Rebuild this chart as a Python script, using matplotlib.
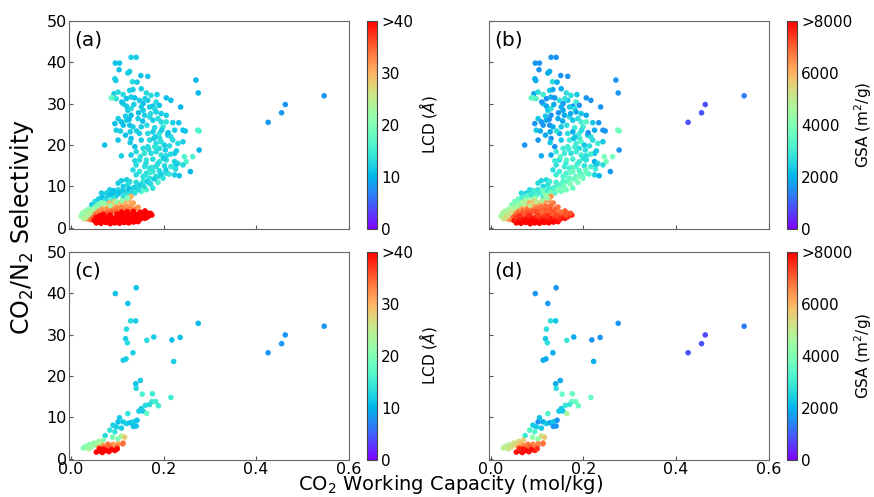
import numpy as np
import matplotlib
matplotlib.use('Agg')
import matplotlib.pyplot as plt

# ---- upper panels (a)/(b): all structures ----
# scattered high-selectivity points
up_wc = [0.096, 0.105, 0.104, 0.130, 0.141, 0.123, 0.127, 0.151, 0.166, 0.095, 0.097, 0.133, 0.143,
         0.270, 0.275, 0.547, 0.463, 0.455, 0.426,
         0.093, 0.102, 0.113, 0.087, 0.091, 0.098, 0.127, 0.134, 0.152, 0.163, 0.173, 0.186, 0.120,
         0.130, 0.138, 0.148, 0.156, 0.166, 0.177, 0.184, 0.191, 0.206, 0.216, 0.237, 0.113, 0.120,
         0.123, 0.130, 0.152, 0.156, 0.170, 0.181, 0.184, 0.195, 0.206, 0.102, 0.095, 0.109, 0.120,
         0.130, 0.145, 0.159, 0.170, 0.177, 0.188, 0.195, 0.206, 0.220, 0.233, 0.113, 0.127, 0.134,
         0.152, 0.164, 0.181, 0.199, 0.224, 0.242, 0.247, 0.274, 0.277, 0.098, 0.107, 0.128, 0.148,
         0.166, 0.177, 0.191, 0.209, 0.216, 0.102, 0.130, 0.152, 0.170, 0.184, 0.195, 0.220, 0.242,
         0.073, 0.138, 0.156, 0.166, 0.181, 0.191, 0.202, 0.213, 0.231, 0.277, 0.109, 0.130, 0.141,
         0.159, 0.173, 0.184, 0.195, 0.206, 0.224, 0.245, 0.263, 0.148, 0.163, 0.177, 0.191, 0.206,
         0.224, 0.231, 0.249, 0.141, 0.159, 0.170, 0.184, 0.202, 0.216, 0.227, 0.242, 0.134, 0.148,
         0.163, 0.177, 0.191, 0.206, 0.224, 0.234, 0.258, 0.141, 0.156, 0.170, 0.184, 0.199, 0.120,
         0.109, 0.102, 0.127, 0.141, 0.156, 0.170, 0.188, 0.113, 0.123, 0.134, 0.148, 0.163, 0.177,
         0.084, 0.095, 0.102, 0.120, 0.138, 0.152, 0.066, 0.077, 0.091, 0.113, 0.127, 0.055]
up_sel = [39.8, 39.8, 38.2, 41.2, 41.2, 37.4, 37.8, 36.8, 36.6, 36.0, 35.6, 35.3, 35.2,
          35.7, 32.6, 31.9, 29.8, 27.8, 25.5,
          32.4, 32.8, 32.2, 31.4, 31.4, 31.2, 33.2, 33.4, 33.6, 32.6, 32.0, 32.2, 31.2,
          31.6, 31.4, 30.8, 30.0, 30.8, 29.4, 30.4, 29.6, 31.4, 30.8, 29.2, 30.0, 29.4,
          28.4, 28.8, 29.2, 28.4, 29.2, 28.8, 28.0, 27.6, 27.2, 26.4, 25.2, 25.6, 26.0,
          27.2, 26.4, 27.2, 26.8, 26.0, 26.4, 25.6, 25.6, 25.4, 25.4, 24.8, 24.8, 24.4,
          24.4, 24.8, 24.2, 24.4, 23.6, 23.6, 23.4, 23.6, 23.4, 23.6, 23.4, 23.2, 22.8,
          22.8, 23.2, 22.8, 22.4, 22.0, 21.2, 21.6, 21.2, 21.2, 20.4, 20.8, 21.2, 20.8,
          20.0, 19.6, 19.2, 19.6, 19.6, 19.2, 20.0, 19.8, 20.4, 18.8, 17.4, 17.6, 18.4,
          18.0, 18.0, 18.4, 17.6, 17.4, 18.0, 17.2, 17.2, 16.4, 16.4, 16.6, 16.0, 16.4,
          16.0, 15.6, 16.0, 15.2, 14.8, 14.4, 14.8, 15.0, 14.8, 15.2, 15.2, 14.0, 13.6,
          13.2, 13.6, 13.8, 13.2, 12.8, 12.6, 13.6, 12.8, 12.4, 12.0, 12.4, 12.0, 11.6,
          11.4, 10.8, 11.2, 11.0, 11.2, 10.8, 11.0, 10.0, 10.4, 9.6, 10.0, 9.2, 9.6,
          9.2, 8.8, 9.2, 8.8, 8.4, 8.8, 8.4, 8.4, 7.6, 7.6, 8.0, 5.2]
up_lcd = [11, 11, 11, 12, 12, 12, 12, 11, 11, 12, 12, 13, 12,
          10, 10, 8, 8, 8, 8,
          12, 13, 13, 18, 18, 14, 12, 12, 12, 13, 13, 12, 11,
          12, 11, 12, 11, 12, 11, 13, 11, 11, 11, 10, 12, 12,
          12, 13, 12, 12, 12, 13, 12, 12, 12, 12, 11, 11, 12,
          11, 12, 12, 13, 12, 13, 13, 14, 12, 11, 11, 11, 12,
          12, 13, 13, 14, 12, 11, 11, 16, 16, 12, 12, 12, 12,
          13, 12, 14, 12, 13, 11, 11, 12, 13, 13, 14, 13, 12,
          11, 11, 13, 13, 14, 13, 12, 13, 13, 10, 12, 12, 13,
          14, 13, 13, 14, 13, 12, 16, 16, 13, 14, 13, 14, 13,
          12, 13, 16, 13, 14, 13, 14, 13, 14, 12, 13, 13, 14,
          13, 14, 13, 14, 12, 11, 10, 13, 13, 14, 13, 14, 12,
          12, 12, 13, 13, 14, 14, 16, 12, 13, 13, 14, 16, 14,
          12, 12, 13, 13, 14, 16, 12, 12, 13, 13, 16, 12]
up_gsa = [1600, 1600, 1600, 1600, 1600, 1900, 1900, 1600, 1600, 1900, 1900, 2700, 1900,
          1600, 1600, 1300, 800, 850, 850,
          1900, 2700, 3000, 3400, 3500, 3400, 2300, 1900, 1900, 2700, 2700, 2300, 1600,
          1900, 1600, 2700, 1600, 2300, 1600, 3000, 1600, 1600, 1600, 1600, 2300, 1900,
          2300, 2700, 1900, 1900, 2300, 2700, 1900, 2300, 1900, 2300, 1600, 1600, 1900,
          1600, 1900, 1900, 2700, 2300, 2700, 3000, 3400, 2300, 1600, 1600, 1600, 1900,
          2300, 2700, 3000, 3000, 1900, 1600, 1600, 3800, 3800, 2300, 1900, 1900, 1900,
          2700, 1900, 3000, 2300, 2700, 1600, 1600, 2300, 3000, 3000, 3400, 2700, 2300,
          1600, 1600, 3000, 3000, 3000, 2700, 2300, 2700, 3000, 1600, 1900, 1900, 3000,
          3000, 2700, 3000, 3000, 2700, 2300, 3800, 3800, 2700, 3400, 3000, 3000, 2700,
          1900, 2700, 3800, 2700, 3000, 3000, 3400, 2700, 3000, 2300, 2700, 2700, 3000,
          3200, 3600, 3300, 3800, 2500, 2000, 1600, 3000, 3200, 3500, 3100, 3700, 2600,
          2500, 2600, 3000, 3100, 3400, 3500, 3900, 2500, 2800, 3000, 3400, 3800, 3600,
          2600, 2400, 2800, 3000, 3400, 3800, 2600, 2500, 2900, 3000, 4000, 2500]

# more points filling the middle of the high-selectivity cloud
mid_wc = [0.110, 0.118, 0.126, 0.136, 0.146, 0.160, 0.172, 0.182, 0.196, 0.210, 0.118, 0.128, 0.142,
          0.155, 0.168, 0.179, 0.192, 0.204, 0.215, 0.228, 0.138, 0.150, 0.162, 0.175, 0.187, 0.200,
          0.212, 0.226, 0.160, 0.172]
mid_sel = [30.4, 27.0, 26.2, 29.8, 27.8, 31.2, 27.6, 22.0, 23.6, 23.0, 22.4, 20.6, 23.4,
           25.8, 19.0, 21.6, 21.6, 18.8, 17.8, 18.6, 16.2, 17.2, 15.6, 14.6, 15.4, 16.8,
           13.0, 14.2, 12.6, 13.4]
mid_lcd = [11, 12, 11, 12, 11, 12, 13, 12, 12, 11, 11, 12, 12,
           11, 13, 12, 13, 12, 13, 12, 13, 14, 13, 14, 13, 12,
           14, 13, 14, 15]
mid_gsa = [1600, 2300, 1600, 1900, 1600, 2700, 1900, 2300, 2700, 1600, 1900, 2300, 2700,
           1900, 3000, 2300, 3000, 2700, 3000, 2300, 3000, 3400, 3000, 3400, 3000, 2700,
           3400, 3000, 3400, 3700]

# dense low-selectivity cluster, cyan edge
cy_wc = [0.045, 0.052, 0.060, 0.068, 0.075, 0.080, 0.088, 0.095, 0.100, 0.105, 0.112, 0.118, 0.125,
         0.130, 0.138, 0.145, 0.150, 0.158, 0.165, 0.172, 0.180, 0.188, 0.195, 0.205, 0.085, 0.070, 0.092]
cy_sel = [5.6, 6.4, 7.0, 7.4, 6.8, 7.8, 8.2, 7.2, 8.0, 8.6, 9.0, 7.9, 9.4,
          8.6, 9.8, 9.2, 10.4, 10.0, 11.2, 10.6, 11.8, 12.4, 13.0, 14.0, 6.5, 6.2, 9.0]
cy_lcd = [12, 13, 12, 11, 13, 12, 11, 14, 12, 11, 12, 14, 11,
          13, 12, 13, 12, 13, 12, 13, 12, 13, 12, 12, 16, 16, 11]
cy_gsa = [4000, 3800, 3600, 3100, 4300, 3400, 2900, 4500, 3500, 3000, 3700, 4300, 3000,
          3800, 3300, 3900, 3400, 3800, 3500, 4000, 3600, 3900, 3500, 3600, 4800, 4900, 3000]

# orange middle band
or_wc = [0.030, 0.038, 0.045, 0.050, 0.055, 0.060, 0.065, 0.070, 0.075, 0.080, 0.085, 0.090, 0.095,
         0.100, 0.105, 0.110, 0.115, 0.120, 0.125, 0.130, 0.135, 0.128, 0.118, 0.108, 0.098, 0.088,
         0.078, 0.068, 0.058, 0.048, 0.140, 0.072, 0.083, 0.095, 0.145, 0.125, 0.130,
         0.035, 0.042, 0.052]
or_sel = [3.0, 3.6, 4.0, 3.4, 4.4, 3.8, 4.8, 4.2, 5.0, 4.4, 5.4, 4.6, 5.6,
          4.8, 5.9, 5.0, 6.2, 5.2, 6.6, 5.4, 6.0, 4.4, 4.2, 4.0, 3.9, 3.8,
          3.6, 3.4, 3.0, 2.8, 4.6, 5.6, 6.0, 6.4, 5.0, 7.2, 7.6,
          2.2, 2.0, 2.1]
or_lcd = [33, 34, 33, 34, 32, 33, 31, 33, 31, 33, 31, 33, 30,
          33, 30, 33, 30, 32, 30, 32, 31, 33, 34, 34, 35, 35,
          35, 35, 34, 35, 33, 30, 30, 29, 32, 30, 30,
          33, 34, 35]
or_gsa = [6300, 6500, 6200, 6700, 6300, 6800, 6300, 6900, 6400, 6900, 6400, 6900, 6300,
          6800, 6300, 6800, 6400, 6900, 6400, 6900, 6700, 7100, 7100, 7200, 7200, 7100,
          7200, 7100, 7000, 7000, 7000, 6000, 6100, 5900, 6900, 6300, 6400,
          6200, 6500, 6800]

# green left tip
gr_wc = [0.022, 0.025, 0.030, 0.035, 0.028, 0.038, 0.045, 0.050, 0.055, 0.060, 0.042, 0.033,
         0.065, 0.072, 0.085, 0.098, 0.110, 0.122]
gr_sel = [2.8, 3.5, 4.0, 3.2, 2.2, 4.5, 4.2, 4.8, 5.2, 5.6, 3.6, 2.6,
          6.0, 5.8, 5.4, 6.3, 6.6, 7.2]
gr_lcd = [22, 21, 22, 23, 24, 21, 23, 22, 21, 20, 24, 24,
          20, 22, 23, 22, 21, 20]
gr_gsa = [4600, 4500, 4700, 4900, 5100, 4500, 5000, 4800, 4600, 4400, 5200, 5300,
          4400, 4800, 5300, 5000, 4700, 4500]

# red bottom band (large-pore, high-surface-area)
rd_wc = [0.055, 0.065, 0.075, 0.085, 0.095, 0.105, 0.115, 0.125, 0.135, 0.145,
         0.050, 0.060, 0.070, 0.080, 0.090, 0.100, 0.110, 0.120, 0.130, 0.140, 0.150, 0.160,
         0.055, 0.068, 0.078, 0.088, 0.098, 0.108, 0.118, 0.128, 0.138, 0.148, 0.158, 0.168, 0.175,
         0.070, 0.085, 0.100, 0.112, 0.125, 0.135, 0.145, 0.155, 0.165, 0.172,
         0.110, 0.122, 0.135, 0.150, 0.160,
         0.060, 0.080, 0.100, 0.120, 0.140, 0.065, 0.085, 0.105, 0.125, 0.145, 0.165,
         0.062, 0.082, 0.102, 0.122, 0.142, 0.162]
rd_sel = [1.2, 1.1, 1.3, 1.0, 1.2, 1.1, 1.3, 1.2, 1.4, 1.5,
          1.8, 1.9, 1.7, 1.8, 2.0, 1.8, 1.9, 1.7, 1.9, 2.0, 2.1, 2.3,
          2.5, 2.6, 2.4, 2.5, 2.7, 2.5, 2.6, 2.4, 2.6, 2.7, 2.8, 2.9, 3.1,
          3.2, 3.1, 3.3, 3.2, 3.3, 3.4, 3.3, 3.4, 3.6, 3.5,
          3.8, 3.9, 4.0, 3.8, 4.1,
          1.5, 1.4, 1.6, 1.5, 1.7, 2.2, 2.1, 2.3, 2.2, 2.4, 2.6,
          2.9, 2.8, 3.0, 2.9, 3.0, 3.2]
rd_lcd = [45, 46, 47, 45, 48, 46, 45, 47, 45, 46,
          44, 45, 46, 47, 45, 46, 48, 45, 46, 45, 44, 46,
          43, 44, 46, 45, 47, 46, 45, 44, 45, 46, 44, 45, 43,
          42, 44, 43, 45, 44, 43, 44, 45, 43, 44,
          41, 42, 43, 41, 42,
          46, 45, 47, 46, 45, 45, 46, 44, 45, 44, 43,
          44, 45, 43, 44, 43, 42]
rd_gsa = [8200, 8300, 8500, 8100, 8400, 8200, 8000, 8300, 8100, 7900,
          7800, 8100, 8300, 8000, 8200, 8300, 8100, 7900, 8000, 7800, 7700, 7900,
          7400, 7600, 7900, 7800, 7700, 7900, 7600, 7800, 7500, 7600, 7700, 7400, 7600,
          7100, 7300, 7200, 7400, 7300, 7100, 7200, 7300, 7000, 7200,
          6900, 7000, 7100, 6900, 7000,
          8300, 8100, 8200, 8000, 7900, 7800, 8000, 7700, 7800, 7600, 7500,
          7500, 7600, 7400, 7500, 7300, 7200]

# ---- lower panels (c)/(d): subset ----
lo_wc = [0.096, 0.141, 0.123, 0.129, 0.140, 0.275, 0.547, 0.463, 0.455, 0.426, 0.120, 0.118,
         0.122, 0.164, 0.179, 0.218, 0.236, 0.134, 0.113, 0.119, 0.222, 0.150, 0.140, 0.141,
         0.154, 0.176, 0.216, 0.175, 0.183, 0.189, 0.170, 0.161, 0.152, 0.147, 0.156, 0.164,
         0.123, 0.105, 0.102, 0.113, 0.120, 0.128, 0.135, 0.143, 0.135, 0.141, 0.091, 0.098,
         0.109, 0.084, 0.095, 0.074, 0.109, 0.116, 0.090, 0.102, 0.113, 0.102, 0.091,
         0.027, 0.032, 0.040, 0.050, 0.060, 0.070, 0.038, 0.045, 0.055, 0.065,
         0.060, 0.070, 0.080, 0.090, 0.075, 0.100, 0.112, 0.085,
         0.055, 0.062, 0.068, 0.075, 0.082, 0.088, 0.095, 0.062, 0.070, 0.100]
lo_sel = [39.9, 41.3, 37.5, 33.3, 33.3, 32.7, 32.0, 29.9, 27.8, 25.6, 31.3, 29.0,
          28.0, 28.6, 29.4, 28.7, 29.3, 25.6, 23.8, 24.1, 23.5, 18.9, 18.1, 17.0,
          15.6, 15.7, 14.8, 13.8, 13.8, 12.8, 13.1, 12.9, 12.1, 11.5, 11.5, 10.9,
          10.9, 9.9, 8.9, 8.9, 8.5, 8.7, 8.9, 9.3, 7.8, 7.9, 8.1, 7.7,
          7.4, 6.9, 6.5, 5.6, 5.5, 5.2, 5.2, 4.8, 3.8, 3.6, 3.5,
          2.6, 3.0, 3.4, 3.8, 4.2, 4.5, 2.4, 2.9, 3.3, 3.6,
          2.7, 3.1, 3.5, 3.2, 2.5, 3.0, 3.6, 2.8,
          1.6, 1.9, 1.5, 2.0, 1.7, 2.2, 2.0, 2.4, 2.3, 2.4]
lo_lcd = [11, 11, 11, 13, 12, 10, 8, 8, 8, 8, 13, 12,
          13, 13, 12, 11, 11, 12, 12, 12, 12, 12, 11, 13,
          16, 15, 15, 15, 15, 15, 13, 13, 12, 12, 12, 18,
          14, 12, 11, 12, 12, 11, 12, 11, 11, 11, 12, 12,
          12, 14, 14, 13, 24, 28, 20, 20, 32, 31, 31,
          20, 21, 20, 21, 22, 21, 23, 22, 23, 24,
          32, 33, 34, 32, 35, 33, 34, 35,
          45, 46, 45, 47, 46, 45, 44, 44, 45, 43]
lo_gsa = [1600, 1600, 1600, 2700, 2300, 1600, 1300, 800, 850, 850, 2700, 2300,
          2700, 2900, 1900, 1600, 1600, 1900, 1900, 1900, 1900, 1900, 1900, 2700,
          3600, 3600, 3600, 3600, 3600, 3600, 2900, 2900, 2300, 2300, 2300, 4800,
          3300, 2300, 1600, 1900, 2300, 1900, 2300, 1600, 1600, 1600, 2300, 2300,
          2300, 3300, 3300, 2900, 5200, 5600, 4300, 4300, 6500, 6500, 6500,
          4800, 5000, 4900, 5200, 5400, 5600, 5100, 5300, 5600, 5900,
          6500, 6600, 6800, 6600, 6900, 6700, 6800, 7000,
          7800, 8000, 7900, 8100, 7800, 7900, 7700, 7600, 7800, 7500]

cmap = 'rainbow'
x_ticks = [0.0, 0.2, 0.4, 0.6]
y_ticks = [0, 10, 20, 30, 40, 50]
lcd_ticks = [0, 10, 20, 30, 40]
lcd_labels = ['0', '10', '20', '30', '>40']
gsa_ticks = [0, 2000, 4000, 6000, 8000]
gsa_labels = ['0', '2000', '4000', '6000', '>8000']

fig = plt.figure(figsize=(8.74, 4.97), dpi=100)

ax_w, ax_h = 0.320, 0.419
lefts = [0.079, 0.5595]
bottoms = [0.539, 0.0745]
cb_lefts = [0.42, 0.9005]

top_groups = [(up_wc, up_sel, up_lcd, up_gsa), (mid_wc, mid_sel, mid_lcd, mid_gsa),
              (cy_wc, cy_sel, cy_lcd, cy_gsa), (or_wc, or_sel, or_lcd, or_gsa),
              (gr_wc, gr_sel, gr_lcd, gr_gsa), (rd_wc, rd_sel, rd_lcd, rd_gsa)]
bot_groups = [(lo_wc, lo_sel, lo_lcd, lo_gsa)]

panels = [('(a)', 0, 0, top_groups, 'lcd'), ('(b)', 1, 0, top_groups, 'gsa'),
          ('(c)', 0, 1, bot_groups, 'lcd'), ('(d)', 1, 1, bot_groups, 'gsa')]

for tag, col, row, groups, kind in panels:
    ax = fig.add_axes([lefts[col], bottoms[row], ax_w, ax_h])
    if kind == 'lcd':
        vmin, vmax = 0, 40
    else:
        vmin, vmax = 0, 8000
    for wc, sel, lcd, gsa in groups:
        c = lcd if kind == 'lcd' else gsa
        sc = ax.scatter(wc, sel, c=np.clip(c, vmin, vmax), cmap=cmap, vmin=vmin, vmax=vmax,
                        s=16, linewidths=0)
    ax.set_xlim(-0.004, 0.6)
    ax.set_ylim(-0.3, 50)
    ax.set_xticks(x_ticks)
    ax.set_yticks(y_ticks)
    ax.tick_params(direction='in', length=3, colors='#555555', labelcolor='black', labelsize=11.5,
                   pad=1.5, top=False, right=False)
    for sp in ax.spines.values():
        sp.set_color('#666666')
    if row == 0:
        ax.set_xticklabels([])
    if col == 1:
        ax.set_yticklabels([])
    ax.text(0.02, 0.955, tag, transform=ax.transAxes, fontsize=14.5, va='top', ha='left')

    cax = fig.add_axes([cb_lefts[col], bottoms[row], 0.0115, ax_h])
    cb = fig.colorbar(sc, cax=cax)
    if kind == 'lcd':
        cb.set_ticks(lcd_ticks)
        cb.set_ticklabels(lcd_labels)
        cb.set_label(r'LCD ($\AA$)', fontsize=11, labelpad=3)
    else:
        cb.set_ticks(gsa_ticks)
        cb.set_ticklabels(gsa_labels)
        cb.set_label(r'GSA (m$^2$/g)', fontsize=11, labelpad=0)
    cb.ax.tick_params(length=0, labelsize=11, pad=3)
    cb.outline.set_edgecolor('#444444')

fig.text(0.025, 0.543, r'CO$_2$/N$_2$ Selectivity', rotation=90, fontsize=17,
         ha='center', va='center')
fig.text(0.515, 0.002, r'CO$_2$ Working Capacity (mol/kg)', fontsize=14,
         ha='center', va='bottom')

fig.savefig('out.png', dpi=100)
